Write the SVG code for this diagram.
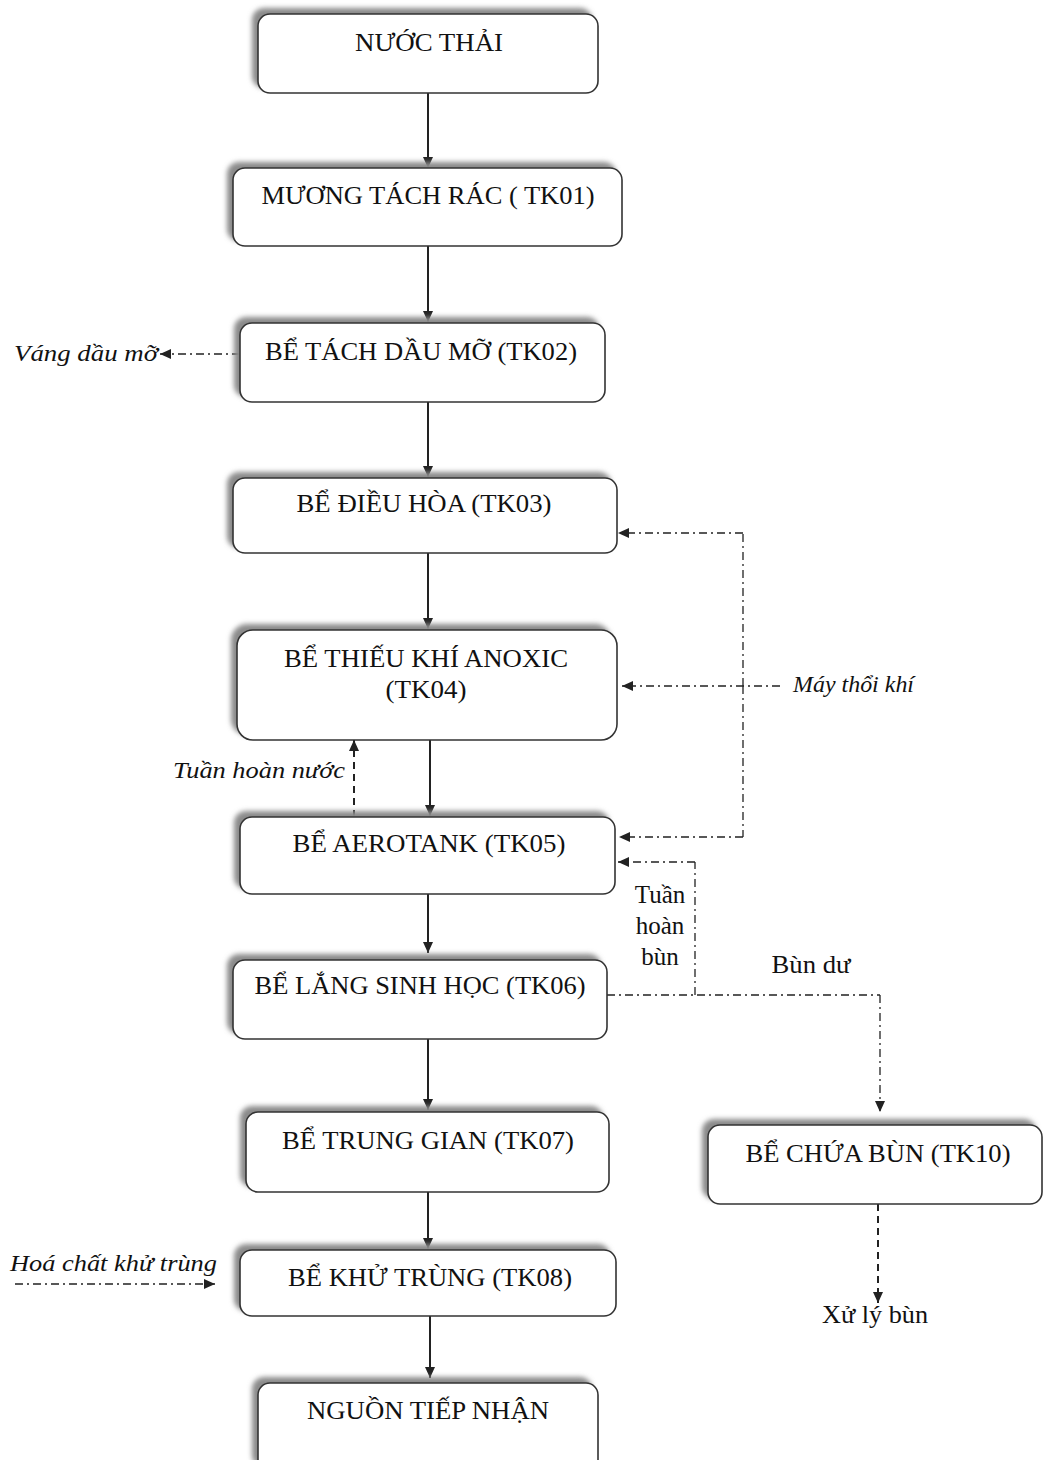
<svg xmlns="http://www.w3.org/2000/svg" width="1044" height="1460" viewBox="0 0 1044 1460">
<style>
.box{fill:#fff;stroke:#333;stroke-width:1.6}
.sh{fill:#8a8a8a;filter:url(#blur)}
.t{font-family:"Liberation Serif","Times New Roman",serif;font-size:25px;fill:#111;text-anchor:middle}
.it{font-family:"Liberation Serif","Times New Roman",serif;font-size:23px;font-style:italic;fill:#111}
.solid{stroke:#222;stroke-width:2;fill:none;marker-end:url(#ah)}
.dd{stroke:#222;stroke-width:1.3;fill:none;stroke-dasharray:8 4 2 4}
.dda{stroke:#222;stroke-width:1.3;fill:none;stroke-dasharray:8 4 2 4;marker-end:url(#ah2)}
.dash{stroke:#222;stroke-width:2;fill:none;stroke-dasharray:7 5;marker-end:url(#ah)}
</style>
<defs>
<filter id="blur" x="-10%" y="-20%" width="120%" height="140%"><feGaussianBlur stdDeviation="2.5"/></filter>
<marker id="ah" markerWidth="12" markerHeight="12" refX="11" refY="5" orient="auto" markerUnits="userSpaceOnUse"><path d="M0,0 L11,5 L0,10 z" fill="#222"/></marker>
<marker id="ah2" markerWidth="14" markerHeight="12" refX="11" refY="5" orient="auto" markerUnits="userSpaceOnUse"><path d="M0,0 L11,5 L0,10 z" fill="#222"/></marker>
</defs>
<rect width="1044" height="1460" fill="#fff"/>

<g id="connectors">
<line class="solid" x1="428" y1="93" x2="428" y2="168"/>
<line class="solid" x1="428" y1="246" x2="428" y2="322"/>
<line class="solid" x1="428" y1="402" x2="428" y2="477"/>
<line class="solid" x1="428" y1="553" x2="428" y2="629"/>
<line class="solid" x1="430" y1="740" x2="430" y2="816"/>
<line class="solid" x1="428" y1="894" x2="428" y2="953"/>
<line class="solid" x1="428" y1="1039" x2="428" y2="1110"/>
<line class="solid" x1="428" y1="1192" x2="428" y2="1249"/>
<line class="solid" x1="430" y1="1316" x2="430" y2="1378"/>
<line class="dda" x1="240" y1="354" x2="160" y2="354"/>
<polyline class="dd" points="743,686 743,533"/>
<line class="dda" x1="743" y1="533" x2="618" y2="533"/>
<line class="dda" x1="780" y1="686" x2="622" y2="686"/>
<polyline class="dd" points="743,686 743,837"/>
<line class="dda" x1="743" y1="837" x2="619" y2="837"/>
<polyline class="dd" points="695,995 695,862"/>
<line class="dda" x1="695" y1="862" x2="618" y2="862"/>
<polyline class="dd" points="607,995 880,995"/>
<line class="dda" x1="880" y1="995" x2="880" y2="1112"/>
<line class="dash" x1="354" y1="817" x2="354" y2="740"/>
<line class="dda" x1="15" y1="1284" x2="215" y2="1284"/>
<line class="dash" x1="878" y1="1204" x2="878" y2="1303"/>
</g>

<g id="n1"><rect class="sh" x="252" y="8" width="340" height="80" rx="12"/><rect class="box" x="258" y="14" width="340" height="79" rx="12"/><text class="t" x="429" y="51" textLength="148" lengthAdjust="spacingAndGlyphs">NƯỚC THẢI</text></g>
<g id="n2"><rect class="sh" x="227" y="162" width="389" height="79" rx="12"/><rect class="box" x="233" y="168" width="389" height="78" rx="12"/><text class="t" x="428" y="204" textLength="333" lengthAdjust="spacingAndGlyphs">MƯƠNG TÁCH RÁC ( TK01)</text></g>
<g id="n3"><rect class="sh" x="234" y="317" width="365" height="80" rx="12"/><rect class="box" x="240" y="323" width="365" height="79" rx="12"/><text class="t" x="421" y="360" textLength="312" lengthAdjust="spacingAndGlyphs">BỂ TÁCH DẦU MỠ (TK02)</text></g>
<g id="n4"><rect class="sh" x="227" y="472" width="384" height="76" rx="12"/><rect class="box" x="233" y="478" width="384" height="75" rx="12"/><text class="t" x="424" y="512" textLength="255" lengthAdjust="spacingAndGlyphs">BỂ ĐIỀU HÒA (TK03)</text></g>
<g id="n5"><rect class="sh" x="231" y="624" width="380" height="111" rx="16"/><rect class="box" x="237" y="630" width="380" height="110" rx="16"/><text class="t" x="426" y="667" textLength="284" lengthAdjust="spacingAndGlyphs">BỂ THIẾU KHÍ ANOXIC</text><text class="t" x="426" y="698" textLength="81" lengthAdjust="spacingAndGlyphs">(TK04)</text></g>
<g id="n6"><rect class="sh" x="234" y="811" width="375" height="78" rx="12"/><rect class="box" x="240" y="817" width="375" height="77" rx="12"/><text class="t" x="429" y="852" textLength="273" lengthAdjust="spacingAndGlyphs">BỂ AEROTANK (TK05)</text></g>
<g id="n7"><rect class="sh" x="227" y="954" width="374" height="80" rx="12"/><rect class="box" x="233" y="960" width="374" height="79" rx="12"/><text class="t" x="420" y="994" textLength="331" lengthAdjust="spacingAndGlyphs">BỂ LẮNG SINH HỌC (TK06)</text></g>
<g id="n8"><rect class="sh" x="240" y="1106" width="363" height="81" rx="12"/><rect class="box" x="246" y="1112" width="363" height="80" rx="12"/><text class="t" x="428" y="1149" textLength="292" lengthAdjust="spacingAndGlyphs">BỂ TRUNG GIAN (TK07)</text></g>
<g id="n9"><rect class="sh" x="234" y="1244" width="376" height="67" rx="12"/><rect class="box" x="240" y="1250" width="376" height="66" rx="12"/><text class="t" x="430" y="1286" textLength="284" lengthAdjust="spacingAndGlyphs">BỂ KHỬ TRÙNG (TK08)</text></g>
<g id="n10"><rect class="sh" x="252" y="1377" width="340" height="90" rx="12"/><rect class="box" x="258" y="1383" width="340" height="90" rx="12"/><text class="t" x="428" y="1419" textLength="242" lengthAdjust="spacingAndGlyphs">NGUỒN TIẾP NHẬN</text></g>
<g id="n11"><rect class="sh" x="702" y="1119" width="334" height="80" rx="12"/><rect class="box" x="708" y="1125" width="334" height="79" rx="12"/><text class="t" x="878" y="1162" textLength="265" lengthAdjust="spacingAndGlyphs">BỂ CHỨA BÙN (TK10)</text></g>

<g id="labels">
<text class="it" x="14" y="361" textLength="144" lengthAdjust="spacingAndGlyphs">Váng dầu mỡ</text>
<text class="it" x="793" y="692" textLength="121" lengthAdjust="spacingAndGlyphs">Máy thổi khí</text>
<text class="it" x="173" y="778" textLength="172" lengthAdjust="spacingAndGlyphs">Tuần hoàn nước</text>
<text class="t" x="660" y="903">Tuần</text>
<text class="t" x="660" y="934">hoàn</text>
<text class="t" x="660" y="965">bùn</text>
<text class="t" x="811" y="973" textLength="79" lengthAdjust="spacingAndGlyphs">Bùn dư</text>
<text class="it" x="10" y="1271" textLength="207" lengthAdjust="spacingAndGlyphs">Hoá chất khử trùng</text>
<text class="t" x="875" y="1323" textLength="106" lengthAdjust="spacingAndGlyphs">Xử lý bùn</text>
</g>
</svg>
